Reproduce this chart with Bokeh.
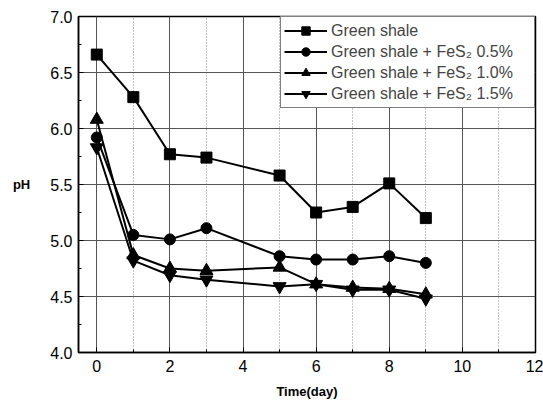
from bokeh.plotting import figure
from bokeh.models import Range1d, FixedTicker, Legend, LegendItem, PrintfTickFormatter
from bokeh.embed import file_html
from bokeh.resources import INLINE

days = [0, 1, 2, 3, 5, 6, 7, 8, 9]
green_shale = [6.66, 6.28, 5.77, 5.74, 5.58, 5.25, 5.30, 5.51, 5.20]
fes2_05 = [5.92, 5.05, 5.01, 5.11, 4.86, 4.83, 4.83, 4.86, 4.80]
fes2_10 = [6.08, 4.87, 4.75, 4.73, 4.76, 4.61, 4.58, 4.57, 4.52]
fes2_15 = [5.83, 4.82, 4.69, 4.65, 4.59, 4.61, 4.56, 4.56, 4.48]

labels = ["Green shale", "Green shale + FeS\u2082 0.5%",
          "Green shale + FeS\u2082 1.0%", "Green shale + FeS\u2082 1.5%"]
x_ticks = [0, 2, 4, 6, 8, 10, 12]
y_ticks = [4.0, 4.5, 5.0, 5.5, 6.0, 6.5, 7.0]

FONT = "Liberation Sans"

p = figure(width=543, height=401, output_backend="svg", toolbar_location=None,
           x_range=Range1d(-0.5, 12), y_range=Range1d(4.0, 7.0),
           min_border_left=78, min_border_right=8, min_border_top=16, min_border_bottom=49)
p.background_fill_color = "white"
p.border_fill_color = "white"
p.outline_line_color = "black"
p.outline_line_width = 1.5

# axes
for ax in (p.xaxis[0], p.yaxis[0]):
    ax.axis_line_color = "black"
    ax.axis_line_width = 1.5
    ax.major_tick_in = 5
    ax.major_tick_out = 0
    ax.minor_tick_in = 3
    ax.minor_tick_out = 0
    ax.major_label_text_font = FONT
    ax.major_label_text_font_size = "16px"
    ax.major_label_text_color = "black"
    ax.axis_label_text_font = FONT
    ax.axis_label_text_font_style = "bold"
    ax.axis_label_text_font_size = "13px"
    ax.axis_label_text_color = "black"
p.xaxis.ticker = FixedTicker(ticks=x_ticks, minor_ticks=list(range(1, 12, 2)))
p.yaxis.ticker = FixedTicker(ticks=y_ticks, minor_ticks=[4.25, 4.75, 5.25, 5.75, 6.25, 6.75])
p.yaxis.formatter = PrintfTickFormatter(format="%.1f")
p.xaxis.major_label_standoff = 7
p.yaxis.major_label_standoff = 6
p.xaxis.axis_label = "Time(day)"
p.xaxis.axis_label_standoff = 9
p.yaxis.axis_label = "pH"
p.yaxis.axis_label_orientation = "horizontal"
p.yaxis.axis_label_standoff = 17

# grid
p.xgrid.grid_line_color = "#555555"
p.xgrid.grid_line_width = 1
p.xgrid.minor_grid_line_color = "#888888"
p.xgrid.minor_grid_line_dash = "1 2"
p.ygrid.grid_line_color = "#555555"
p.ygrid.grid_line_width = 1

series = [green_shale, fes2_05, fes2_10, fes2_15]
markers = ["square", "circle", "triangle", "inverted_triangle"]
sizes = [11, 11, 13, 13]
items = []
for vals, m, s, lab in zip(series, markers, sizes, labels):
    ln = p.line(days, vals, line_color="black", line_width=2)
    sc = p.scatter(days, vals, marker=m, size=s, fill_color="black", line_color="black")
    items.append(LegendItem(label=lab, renderers=[ln, sc]))

legend = Legend(items=items, location="top_right")
legend.label_text_font = FONT
legend.label_text_font_size = "16px"
legend.label_height = 21
legend.glyph_height = 21
legend.glyph_width = 43
legend.label_width = 200
legend.spacing = 0
legend.padding = 3
legend.margin = 0
legend.label_standoff = 4
legend.border_line_color = "black"
legend.border_line_width = 1.5
legend.background_fill_alpha = 1
p.add_layout(legend)

open("out.html", "w").write(file_html(p, INLINE))
